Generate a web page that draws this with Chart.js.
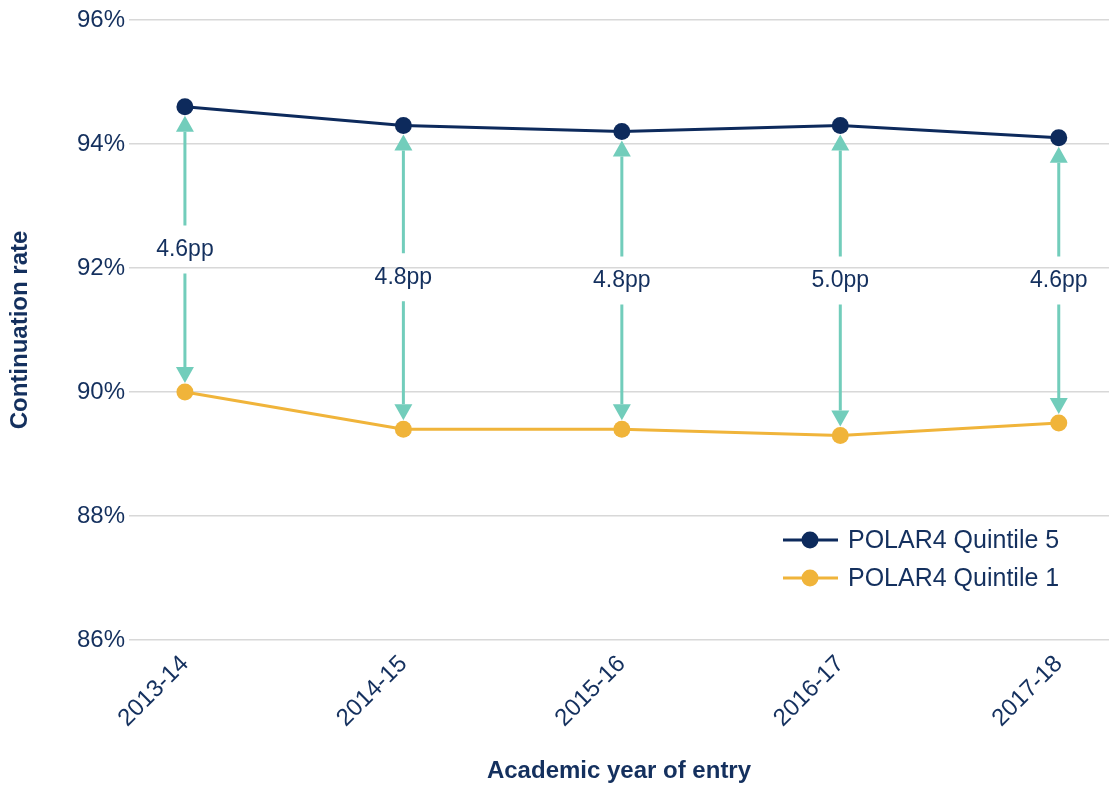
<!DOCTYPE html>
<html>
<head>
<meta charset="utf-8">
<script src="https://cdn.jsdelivr.net/npm/chart.js@4"></script>
<style>
  html, body { margin: 0; padding: 0; background: #ffffff; overflow: hidden; }
</style>
</head>
<body>
<canvas id="chart-continuation" width="1109" height="787"></canvas>
<script>
// academic years and continuation rates (%)
var years = ['2013-14', '2014-15', '2015-16', '2016-17', '2017-18'];
var quintile5 = [94.6, 94.3, 94.2, 94.3, 94.1];
var quintile1 = [90.0, 89.4, 89.4, 89.3, 89.5];
var gapPp = [4.6, 4.8, 4.8, 5.0, 4.6];
var yTicks = [86, 88, 90, 92, 94, 96];

var navy = '#0d2a5c';
var gold = '#f0b43a';
var teal = '#72cdbb';
var textCol = '#14305e';
var fontFamily = '"Liberation Sans", Arial, sans-serif';

// teal double arrows between the two lines, with the gap in the middle
var gapArrows = {
    id: 'gapArrows',
    beforeDatasetsDraw: function (chart) {
        var ctx = chart.ctx;
        var xs = chart.scales.x, ys = chart.scales.y;
        var inset = 9, head = 16, halfW = 9, hole = 24;
        ctx.save();
        ctx.strokeStyle = teal;
        ctx.fillStyle = teal;
        ctx.lineWidth = 3;
        for (var i = 0; i < years.length; i++) {
            var x = xs.getPixelForValue(i);
            var top = ys.getPixelForValue(quintile5[i]) + inset;
            var bot = ys.getPixelForValue(quintile1[i]) - inset;
            var mid = (top + bot) / 2;
            ctx.beginPath();
            ctx.moveTo(x, top + head);
            ctx.lineTo(x, mid - hole);
            ctx.moveTo(x, mid + hole);
            ctx.lineTo(x, bot - head);
            ctx.stroke();
            ctx.beginPath();
            ctx.moveTo(x, top);
            ctx.lineTo(x - halfW, top + head);
            ctx.lineTo(x + halfW, top + head);
            ctx.closePath();
            ctx.fill();
            ctx.beginPath();
            ctx.moveTo(x, bot);
            ctx.lineTo(x - halfW, bot - head);
            ctx.lineTo(x + halfW, bot - head);
            ctx.closePath();
            ctx.fill();
            ctx.fillStyle = textCol;
            ctx.font = '23px ' + fontFamily;
            ctx.textAlign = 'center';
            ctx.textBaseline = 'middle';
            ctx.fillText(gapPp[i].toFixed(1) + 'pp', x, mid);
            ctx.fillStyle = teal;
        }
        ctx.restore();
    }
};

// legend sitting inside the plot, lower right
var innerLegend = {
    id: 'innerLegend',
    afterDraw: function (chart) {
        var ctx = chart.ctx;
        var area = chart.chartArea;
        var x0 = area.right - 326;
        var rows = [area.bottom - 100, area.bottom - 62];
        ctx.save();
        chart.data.datasets.forEach(function (ds, k) {
            var y = rows[k];
            ctx.strokeStyle = ds.borderColor;
            ctx.lineWidth = 3;
            ctx.beginPath();
            ctx.moveTo(x0, y);
            ctx.lineTo(x0 + 55, y);
            ctx.stroke();
            ctx.fillStyle = ds.borderColor;
            ctx.beginPath();
            ctx.arc(x0 + 27, y, 8.5, 0, Math.PI * 2);
            ctx.fill();
            ctx.fillStyle = textCol;
            ctx.font = '25px ' + fontFamily;
            ctx.textAlign = 'left';
            ctx.textBaseline = 'middle';
            ctx.fillText(ds.label, x0 + 65, y + 1);
        });
        ctx.restore();
    }
};

var ctx = document.getElementById('chart-continuation').getContext('2d');
var myChart = new Chart(ctx, {
    type: 'line',
    data: {
        datasets: [{
            label: 'POLAR4 Quintile 5',
            data: quintile5.map(function (v, i) { return { x: i, y: v }; }),
            borderColor: navy,
            backgroundColor: navy,
            borderWidth: 3,
            pointRadius: 8.5,
            pointBorderWidth: 0,
            pointBackgroundColor: navy
        }, {
            label: 'POLAR4 Quintile 1',
            data: quintile1.map(function (v, i) { return { x: i, y: v }; }),
            borderColor: gold,
            backgroundColor: gold,
            borderWidth: 3,
            pointRadius: 8.5,
            pointBorderWidth: 0,
            pointBackgroundColor: gold
        }]
    },
    options: {
        responsive: false,
        animation: { duration: 0 },
        layout: { autoPadding: false, padding: { top: 20, right: 0, bottom: 0, left: 0 } },
        plugins: {
            legend: { display: false },
            tooltip: { enabled: false }
        },
        scales: {
            x: {
                type: 'linear',
                min: -0.256,
                max: 4.23,
                afterBuildTicks: function (scale) {
                    scale.ticks = years.map(function (y, i) { return { value: i }; });
                },
                afterFit: function (scale) {
                    scale.height = 147;
                    scale.paddingLeft = 0;
                    scale.paddingRight = 0;
                },
                grid: { display: false, drawTicks: false },
                border: { display: false },
                ticks: {
                    autoSkip: false,
                    minRotation: 45,
                    maxRotation: 45,
                    padding: 10,
                    color: textCol,
                    font: { family: fontFamily, size: 24 },
                    callback: function (v) { return years[v]; }
                },
                title: {
                    display: true,
                    text: 'Academic year of entry',
                    color: textCol,
                    font: { family: fontFamily, size: 24, weight: 'bold' },
                    padding: { top: 0, bottom: 1 }
                }
            },
            y: {
                min: 86,
                max: 96,
                afterBuildTicks: function (scale) {
                    scale.ticks = yTicks.map(function (v) { return { value: v }; });
                },
                afterFit: function (scale) { scale.width = 129; },
                grid: { color: '#d8d8d8', lineWidth: 1.5, drawTicks: false },
                border: { display: false },
                ticks: {
                    padding: 4,
                    color: textCol,
                    font: { family: fontFamily, size: 24 },
                    callback: function (v) { return v + '%'; }
                },
                title: {
                    display: true,
                    text: 'Continuation rate',
                    color: textCol,
                    font: { family: fontFamily, size: 24, weight: 'bold' },
                    padding: { top: 6, bottom: 0 }
                }
            }
        }
    },
    plugins: [gapArrows, innerLegend]
});
</script>
</body>
</html>
